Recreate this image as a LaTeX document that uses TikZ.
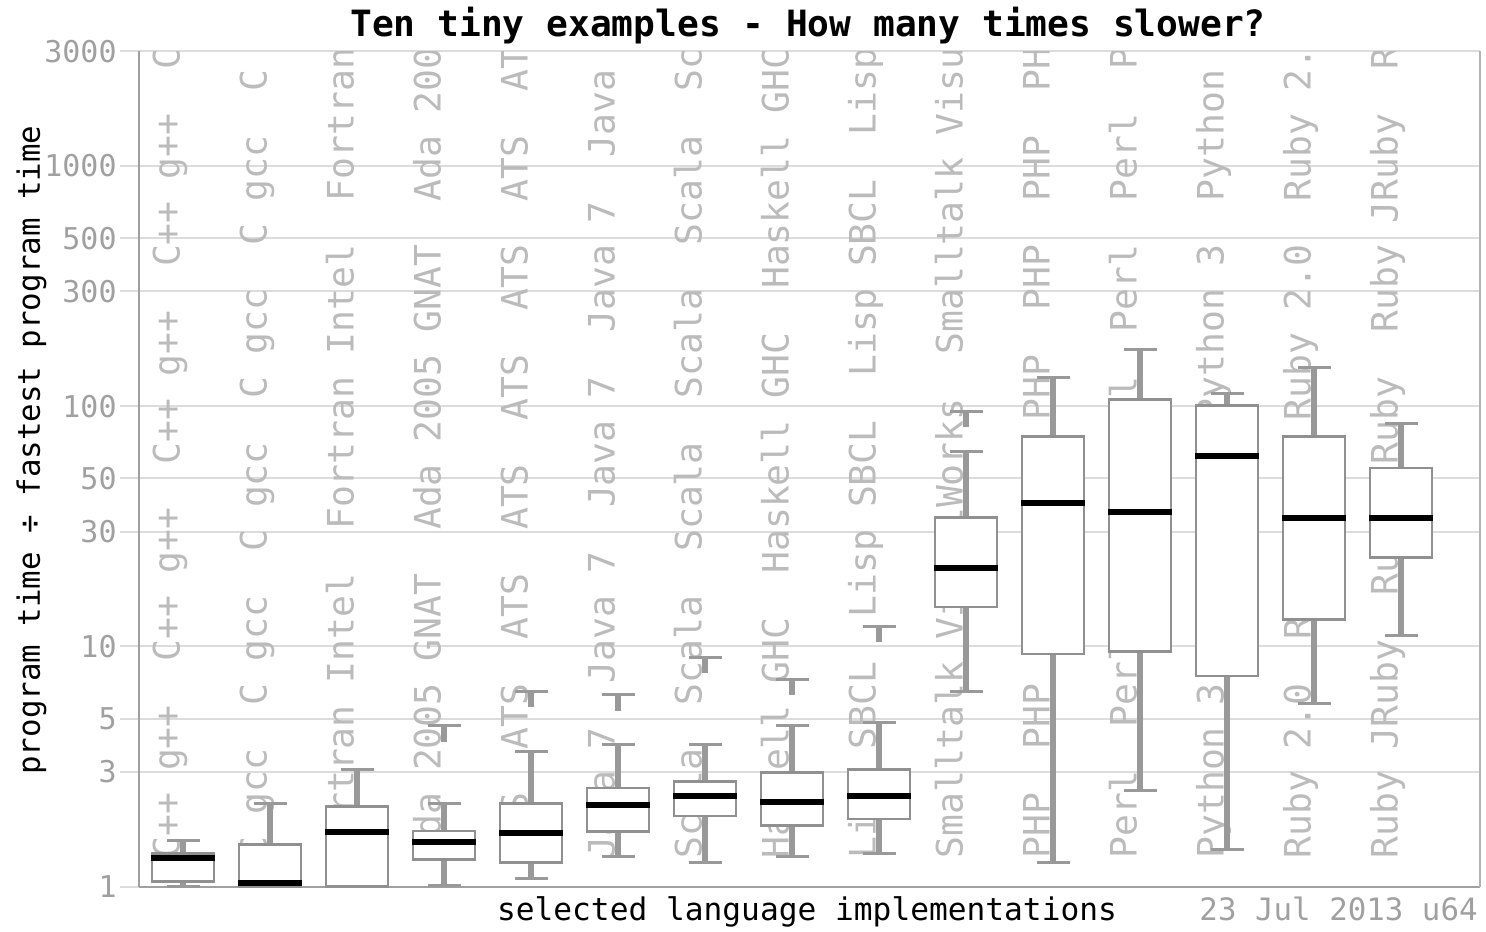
\documentclass[tikz,border=0pt]{standalone}
\usepackage{fontspec}
\setmainfont{DejaVu Sans Mono}
\frenchspacing

\definecolor{gridgray}{HTML}{DCDCDC}
\definecolor{tickgray}{HTML}{A0A0A0}
\definecolor{langgray}{HTML}{BBBBBB}
\definecolor{whiskgray}{HTML}{999999}
\definecolor{boxgray}{HTML}{909090}
\definecolor{axisgray}{HTML}{A0A0A0}

\newcommand\langrep[1]{#1~~#1~~#1~~#1~~#1~~#1~~#1~~#1~~#1}

\begin{document}
\begin{tikzpicture}[x=0.5pt,y=120.15pt,
  gridline/.style={draw=gridgray,line width=1pt},
  ticklabel/.style={anchor=east,inner sep=0pt,text=tickgray,font=\fontsize{15}{18}\selectfont},
  langlabel/.style={rotate=90,anchor=base west,inner sep=0pt,text=langgray,font=\fontsize{18.2}{20}\selectfont},
  whisker/.style={draw=whiskgray,line width=3pt},
  wcap/.style={draw=whiskgray,line width=1.5pt},
  qbox/.style={draw=boxgray,fill=white,line width=1.25pt},
  median/.style={draw=black,line width=3pt}]
\useasboundingbox (0,-0.1844) rectangle (1486,3.690);

% grid and y ticks
\foreach \v in {1,3,5,10,30,50,100,300,500,1000,3000}{
  \draw[gridline] (120,{log10(\v)}) -- (1480,{log10(\v)});
  \node[ticklabel] (tick\v) at (117,{log10(\v)}) {\v};
}

% language names behind the boxes
\begin{scope}
  \clip (139,0) rectangle (1480,{log10(3000)});
  \foreach \lang [count=\i] in {C++ g++,C gcc,Fortran Intel,Ada 2005 GNAT,ATS,Java 7,Scala,Haskell GHC,Lisp SBCL,Smalltalk VisualWorks,PHP,Perl,Python 3,Ruby 2.0,Ruby JRuby}
    \node[langlabel] (lang\i) at ({183+87*(\i-1)-3.5},0.1153) {\langrep{\lang}};
\end{scope}

% axes
\draw[axisgray,line width=1.2pt] (139,0) -- (139,{log10(3000)});
\draw[axisgray,line width=1.2pt] (139,0) -- (1480,0);
\draw[axisgray!80,line width=1.2pt] (1480,0) -- (1480,{log10(3000)});

% boxes: low whisker / lower quartile / median / upper quartile / high whisker
\foreach \lo/\qa/\med/\qb/\hi [count=\i] in {
  1.0/1.049/1.32/1.377/1.554,
  1.0/1.0/1.033/1.501/2.223,
  1.0/1.0/1.684/2.153/3.06,
  1.016/1.30/1.53/1.705/2.223,
  1.084/1.259/1.668/2.223/3.67,
  1.333/1.694/2.188/2.569/3.914,
  1.259/1.969/2.391/2.735/3.914,
  1.333/1.794/2.259/2.982/4.665,
  1.377/1.913/2.391/3.08/4.814,
  6.51/14.6/21.14/34.45/64.5,
  1.263/9.3/39.4/74.8/131.9,
  2.516/9.52/36.2/106.4/171.9,
  1.427/7.55/61.8/100.7/113,
  5.80/12.93/34.1/74.8/144.7,
  11.14/23.4/34.1/55.2/84.3}{
  \pgfmathsetmacro\xc{183+87*(\i-1)}
  \draw[whisker] (\xc,{log10(\lo)}) -- (\xc,{log10(\hi)});
  \draw[wcap] (\xc-16.5,{log10(\lo)}) -- (\xc+16.5,{log10(\lo)});
  \draw[wcap] (\xc-16.5,{log10(\hi)}) -- (\xc+16.5,{log10(\hi)});
  \draw[qbox] (\xc-31,{log10(\qa)}) rectangle (\xc+31,{log10(\qb)});
  \draw[median] (\xc-32,{log10(\med)}) -- (\xc+32,{log10(\med)});
}

% outliers
\foreach \i/\out in {4/4.665,5/6.48,6/6.28,7/9.01,8/7.317,9/12.08,10/94.9}{
  \pgfmathsetmacro\xc{183+87*(\i-1)}
  \draw[wcap] (\xc-16.5,{log10(\out)}) -- (\xc+16.5,{log10(\out)});
  \draw[whisker] (\xc,{log10(\out)}) -- (\xc,{log10(\out)-0.065});
}

% titles
\node[anchor=base,inner sep=0pt,font=\bfseries\fontsize{18.1}{20}\selectfont] (title) at (808,3.536) {Ten tiny examples - How many times slower?};
\node[rotate=90,anchor=base,inner sep=0pt,font=\fontsize{15.4}{18}\selectfont] (ytitle) at (40,1.817) {program time ÷ fastest program time};
\node[anchor=base,inner sep=0pt,font=\fontsize{15.6}{18}\selectfont] (xtitle) at (807,-0.1386) {selected language implementations};
\node[anchor=base east,inner sep=0pt,text=tickgray,font=\fontsize{15.4}{18}\selectfont] (date) at (1478,-0.1386) {23 Jul 2013 u64};
\end{tikzpicture}
\end{document}
